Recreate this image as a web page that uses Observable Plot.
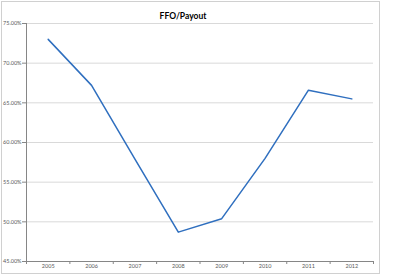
<!DOCTYPE html>
<html>
<head>
<meta charset="utf-8">
<script src="https://cdn.jsdelivr.net/npm/d3@7"></script>
<script src="https://cdn.jsdelivr.net/npm/@observablehq/plot@0.6"></script>
<style>
  html, body { margin: 0; padding: 0; background: #fff; }
  #wrap { position: relative; width: 400px; height: 275px; }
  #border { position: absolute; left: 1px; top: 1px; width: 379px; height: 273px; box-sizing: border-box; border: 1px solid #d0d0d0; pointer-events: none; }
</style>
</head>
<body>
<div id="wrap"><div id="border"></div></div>
<script>
const title = "FFO/Payout";
const years = ["2005", "2006", "2007", "2008", "2009", "2010", "2011", "2012"];
const ffoPayout = [0.730, 0.672, 0.579, 0.487, 0.504, 0.580, 0.666, 0.655];
const yTicks = [0.45, 0.50, 0.55, 0.60, 0.65, 0.70, 0.75];
const xBoundaries = [0, 1, 2, 3, 4, 5, 6, 7, 8];

const pos = (d, i) => i + 0.5;
const labelPos = years.map(pos);

const chart = Plot.plot({
  width: 400,
  height: 275,
  marginLeft: 26,
  marginRight: 27,
  marginTop: 23,
  marginBottom: 14,
  style: { fontFamily: "Lato, 'Open Sans', sans-serif", background: "transparent", overflow: "visible" },
  x: { type: "linear", domain: [0, years.length], axis: null },
  y: { domain: [0.45, 0.75], axis: null },
  marks: [
    Plot.ruleY(yTicks.slice(1), { stroke: "#d9d9d9", strokeWidth: 1 }),
    Plot.ruleX([0], { stroke: "#868686" }),
    Plot.ruleY([0.45], { stroke: "#868686" }),
    Plot.axisY(yTicks, { tickSize: 4, tickFormat: () => "", color: "#868686" }),
    Plot.axisY(yTicks, { tickSize: 0, tickPadding: 5, tickFormat: d3.format(".2%"), fontSize: 5.5, color: "#595959" }),
    Plot.axisX(xBoundaries, { tickSize: 3, tickFormat: () => "", color: "#868686" }),
    Plot.axisX(labelPos, { tickSize: 0, tickPadding: 3, tickFormat: (v) => years[Math.round(v - 0.5)], fontSize: 5.5, color: "#595959" }),
    Plot.line(ffoPayout, { x: pos, y: (d) => d, stroke: "#2f6fbf", strokeWidth: 1.5 }),
    Plot.text([title], { frameAnchor: "top", dx: -17, dy: -11, fontWeight: "bold", fontSize: 8.5, fill: "#000" })
  ]
});
document.getElementById("wrap").prepend(chart);
</script>
</body>
</html>
